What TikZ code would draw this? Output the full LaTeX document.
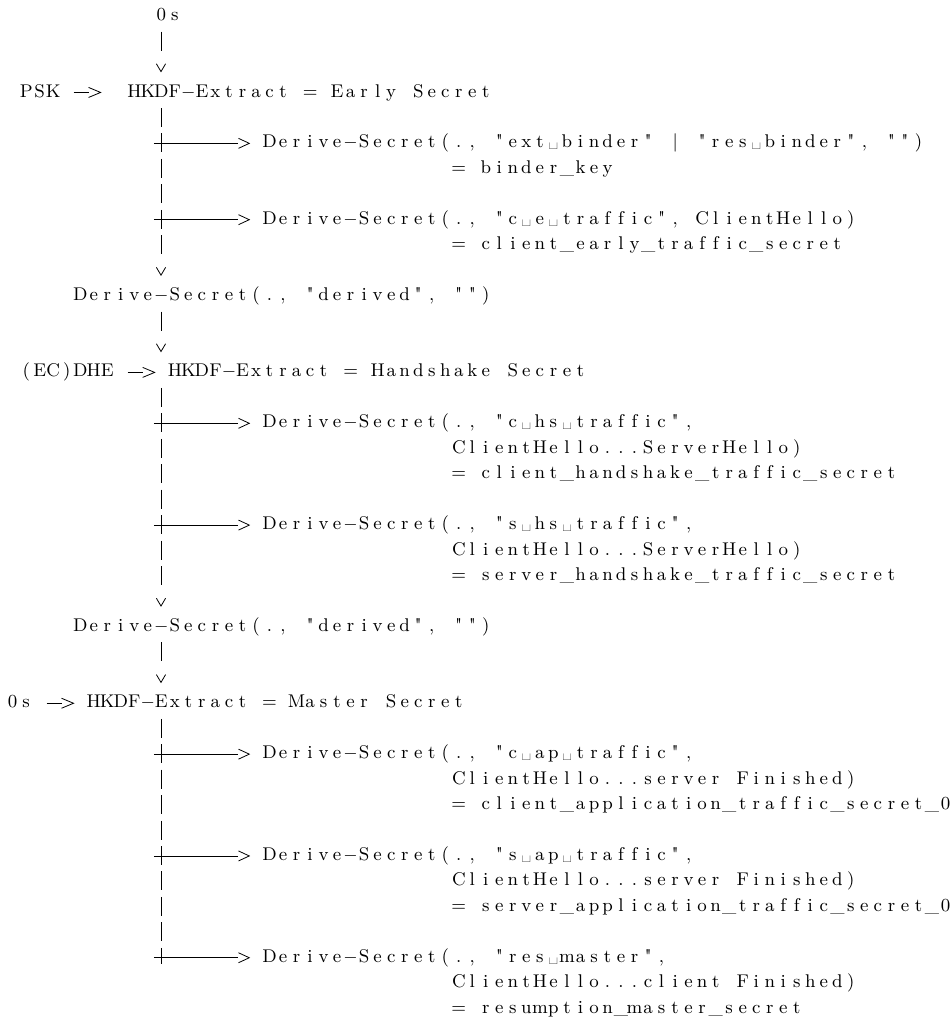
\documentclass[tikz,border=0pt]{standalone}
\usetikzlibrary{arrows.meta,calc}

% fixed columns, one character per column
\ExplSyntaxOn
\dim_new:N \l_fix_col_dim
\dim_set:Nn \l_fix_col_dim {6.76pt}
\cs_new:Npn \fix_glyph:n #1
  {
    \str_case:nnF {#1}
      {
        {-} {$-$}
        {@} {\textvisiblespace}
        {"} {\XeTeXglyph\XeTeXglyphindex "quotedbl"\relax}
      }
      {#1}
  }
\NewDocumentCommand \fixed { m }
  { \str_map_inline:nn {#1} { \hbox_to_wd:nn {\l_fix_col_dim} { \hss \fix_glyph:n {##1} \hss } } }
\ExplSyntaxOff

% open tip drawn like a glyph, line stops at its mouth (inset)
\pgfdeclarearrow{
  name = Glyph,
  parameters = {\the\pgfarrowlength,\the\pgfarrowwidth,\the\pgfarrowinset},
  setup code = {
    \pgfarrowssettipend{0pt}
    \pgfarrowssetlineend{-\pgfarrowinset}
    \pgfarrowssetbackend{-\pgfarrowlength}
    \pgfarrowshullpoint{-\pgfarrowlength}{.5\pgfarrowwidth}
    \pgfarrowshullpoint{-\pgfarrowlength}{-.5\pgfarrowwidth}
    \pgfarrowshullpoint{0pt}{0pt}
    \pgfarrowssavethe\pgfarrowlength
    \pgfarrowssavethe\pgfarrowwidth
  },
  drawing code = {
    \pgfsetdash{}{0pt}
    \pgfpathmoveto{\pgfqpoint{-\pgfarrowlength}{.5\pgfarrowwidth}}
    \pgfpathlineto{\pgfpointorigin}
    \pgfpathlineto{\pgfqpoint{-\pgfarrowlength}{-.5\pgfarrowwidth}}
    \pgfusepathqstroke
  },
  defaults = {length=4pt, width=4pt, inset=4pt}
}

\begin{document}
\begin{tikzpicture}[x=6.76pt, y=-12.725pt,
    every node/.style={anchor=base west, inner sep=0pt, font=\fontsize{9.2}{11}\selectfont},
    trunk/.style={line width=0.4pt, dash pattern=on 9.5pt off 3.225pt,
        shorten <=5.475pt, shorten >=12.725pt,
        -{Glyph[length=3.9pt, width=4.6pt, inset=10.475pt]}},
    bars/.style={line width=0.4pt, dash pattern=on 9.5pt off 3.225pt,
        shorten <=5.475pt, shorten >=-0.75pt},
    branch/.style={line width=0.4pt, transform canvas={yshift=2.3pt},
        shorten <=-3.6pt, shorten >=6.55pt,
        -{Glyph[length=5.4pt, width=5pt, inset=5.4pt]}},
    feed/.style={line width=0.4pt, transform canvas={yshift=2.3pt},
        shorten <=6.6pt, -{Glyph[length=6pt, width=5pt, inset=6pt]}}]

    \useasboundingbox (1.592,0.1866) rectangle (72.006,40.305);
    \coordinate (T) at (13.5,0);

    % inputs and extract steps
    \node (zero) at (13,1) {\fixed{0s}};
    \node (psk) at (3,4) {\fixed{PSK}};
    \node (early) at (11,4) {\fixed{HKDF-Extract = Early Secret}};
    \node (derived1) at (7,12) {\fixed{Derive-Secret(., "derived", "")}};
    \node (dhe) at (3,15) {\fixed{(EC)DHE}};
    \node (hs) at (14,15) {\fixed{HKDF-Extract = Handshake Secret}};
    \node (derived2) at (7,25) {\fixed{Derive-Secret(., "derived", "")}};
    \node (salt) at (2,28) {\fixed{0s}};
    \node (ms) at (8,28) {\fixed{HKDF-Extract = Master Secret}};

    % derived secrets
    \node (binder) at (21,6) {\fixed{Derive-Secret(., "ext@binder" | "res@binder", "")}};
    \node (binderk) at (35,7) {\fixed{= binder_key}};
    \node (cets) at (21,9) {\fixed{Derive-Secret(., "c@e@traffic", ClientHello)}};
    \node (cetsk) at (35,10) {\fixed{= client_early_traffic_secret}};
    \node (chts) at (21,17) {\fixed{Derive-Secret(., "c@hs@traffic",}};
    \node (chtsa) at (35,18) {\fixed{ClientHello...ServerHello)}};
    \node (chtsk) at (35,19) {\fixed{= client_handshake_traffic_secret}};
    \node (shts) at (21,21) {\fixed{Derive-Secret(., "s@hs@traffic",}};
    \node (shtsa) at (35,22) {\fixed{ClientHello...ServerHello)}};
    \node (shtsk) at (35,23) {\fixed{= server_handshake_traffic_secret}};
    \node (cats) at (21,30) {\fixed{Derive-Secret(., "c@ap@traffic",}};
    \node (catsa) at (35,31) {\fixed{ClientHello...server Finished)}};
    \node (catsk) at (35,32) {\fixed{= client_application_traffic_secret_0}};
    \node (sats) at (21,34) {\fixed{Derive-Secret(., "s@ap@traffic",}};
    \node (satsa) at (35,35) {\fixed{ClientHello...server Finished)}};
    \node (satsk) at (35,36) {\fixed{= server_application_traffic_secret_0}};
    \node (rms) at (21,38) {\fixed{Derive-Secret(., "res@master",}};
    \node (rmsa) at (35,39) {\fixed{ClientHello...client Finished)}};
    \node (rmsk) at (35,40) {\fixed{= resumption_master_secret}};

    % main chain
    \draw[trunk] (zero.base -| T) -- (early.base -| T);
    \draw[trunk] (early.base -| T) -- (derived1.base -| T);
    \draw[trunk] (derived1.base -| T) -- (hs.base -| T);
    \draw[trunk] (hs.base -| T) -- (derived2.base -| T);
    \draw[trunk] (derived2.base -| T) -- (ms.base -| T);
    \draw[bars] (ms.base -| T) -- (rms.base -| T);

    % side inputs
    \draw[feed, shorten >=13.3pt] (psk.base east) -- (early.base west);
    \draw[feed, shorten >=6.55pt] (dhe.base east) -- (hs.base west);
    \draw[feed, shorten >=6.55pt] (salt.base east) -- (ms.base west);

    % branches
    \draw[branch] (binder.base west -| T) -- (binder.base west);
    \draw[branch] (cets.base west -| T) -- (cets.base west);
    \draw[branch] (chts.base west -| T) -- (chts.base west);
    \draw[branch] (shts.base west -| T) -- (shts.base west);
    \draw[branch] (cats.base west -| T) -- (cats.base west);
    \draw[branch] (sats.base west -| T) -- (sats.base west);
    \draw[branch] (rms.base west -| T) -- (rms.base west);
\end{tikzpicture}
\end{document}
